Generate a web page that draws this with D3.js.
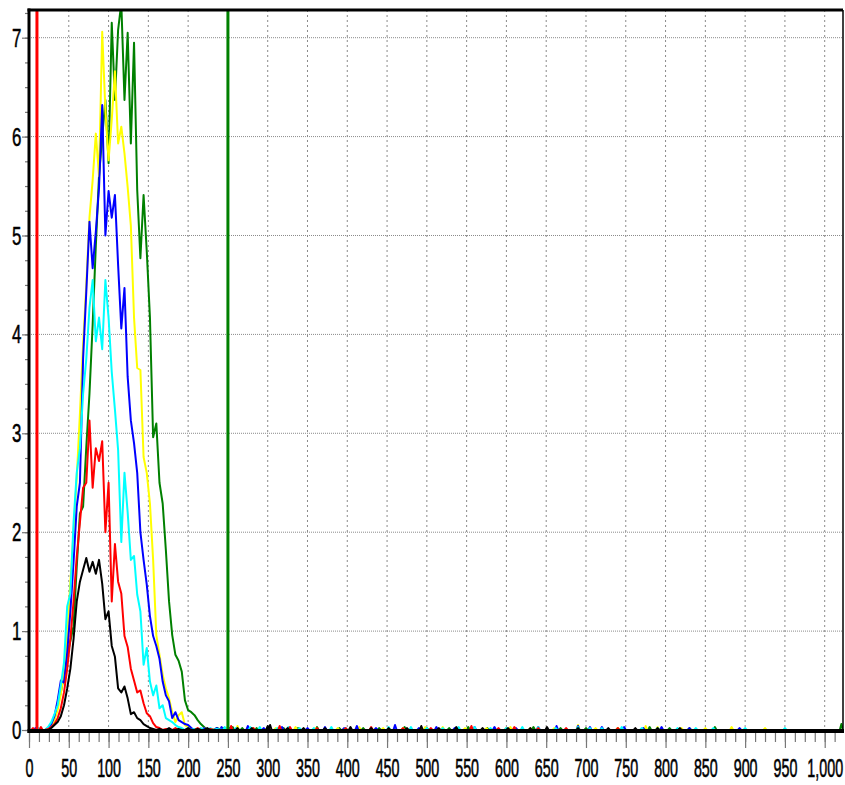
<!DOCTYPE html>
<html>
<head>
<meta charset="utf-8">
<script src="https://cdn.jsdelivr.net/npm/d3@7/dist/d3.min.js"></script>
<style>
  html, body { margin: 0; padding: 0; background: #fff; }
  svg { display: block; }
  text { font-family: "Liberation Sans", Arial, sans-serif; fill: #000; }
</style>
</head>
<body>
<svg id="chart" width="845" height="785"></svg>
<script>
// Channel positions (bin centres) for the main body of the histograms
const bins = [20, 24, 28, 32, 36, 40, 44, 48, 52, 56, 60, 64, 68, 72, 76, 80, 84, 88, 92, 96,
  100, 104, 108, 112, 116, 120, 124, 128, 132, 136, 140, 144, 148, 152, 156, 160, 164, 168, 172, 176,
  180, 184, 188, 192, 196, 200, 204, 208, 212, 216, 220, 224, 228, 232, 236];

// Counts per bin, one array per trace
const greenCounts = [0, 0.01, 0.05, 0.12, 0.25, 0.38, 0.55, 0.75, 0.9, 1.05, 1.65, 2.19, 2.26, 2.86, 3.4, 4.1, 4.9, 5.6, 6.0, 6.37,
  5.73, 7.15, 6.37, 7.08, 7.35, 6.37, 7.05, 5.93, 6.95, 5.46, 4.77, 5.41, 4.84, 4.17, 2.96, 3.1, 2.5, 2.29, 1.82, 1.3,
  0.96, 0.76, 0.7, 0.59, 0.3, 0.2, 0.18, 0.15, 0.1, 0.06, 0.03, 0, 0.01, 0, 0.02];
const yellowCounts = [0, 0.01, 0.04, 0.1, 0.2, 0.36, 0.6, 0.95, 1.5, 2.0, 2.55, 3.2, 3.9, 4.5, 5.18, 5.56, 6.03, 5.6, 7.06, 6.27,
  5.76, 6.17, 6.66, 5.93, 6.1, 5.83, 5.49, 5.1, 4.17, 3.66, 3.64, 2.76, 2.6, 2.29, 1.72, 0.96, 0.76, 0.56, 0.42, 0.32,
  0.18, 0.08, 0.15, 0.18, 0.05, 0.03, 0, 0.01, 0, 0, 0.02, 0, 0, 0.01, 0];
const blueCounts = [0, 0.02, 0.06, 0.14, 0.3, 0.5, 0.48, 0.78, 1.2, 1.7, 2.26, 2.5, 3.76, 4.43, 5.14, 4.67, 5.04, 5.48, 6.32, 5.0,
  5.45, 5.18, 5.41, 4.7, 4.06, 4.47, 3.57, 3.13, 2.9, 2.6, 2.0, 1.72, 1.47, 1.15, 0.95, 0.85, 0.72, 0.49, 0.35, 0.29,
  0.12, 0.18, 0.1, 0.08, 0.06, 0.05, 0.02, 0, 0.01, 0, 0.02, 0, 0.01, 0, 0.02];
const cyanCounts = [0, 0.03, 0.08, 0.16, 0.25, 0.45, 0.68, 1.25, 1.38, 2.1, 2.6, 2.85, 3.4, 3.75, 4.27, 4.55, 3.93, 4.17, 3.85, 4.55,
  4.17, 3.62, 3.24, 2.83, 1.9, 2.6, 2.2, 1.72, 1.76, 1.37, 1.2, 0.66, 0.83, 0.49, 0.35, 0.45, 0.22, 0.25, 0.12, 0.1,
  0.08, 0.05, 0.03, 0.02, 0, 0.02, 0, 0.01, 0, 0.02, 0, 0, 0.02, 0, 0.01];
const redCounts = [0, 0.01, 0.03, 0.06, 0.12, 0.22, 0.38, 0.62, 0.92, 1.3, 1.75, 2.1, 2.45, 2.5, 3.13, 2.45, 2.85, 2.72, 2.92, 2.0,
  2.5, 1.3, 1.88, 1.5, 1.38, 0.95, 0.84, 0.62, 0.5, 0.38, 0.4, 0.27, 0.17, 0.14, 0.07, 0.03, 0.02, 0, 0.01, 0,
  0, 0.02, 0, 0, 0, 0.01, 0, 0, 0.02, 0, 0, 0, 0.01, 0, 0];
const blackCounts = [0, 0, 0.02, 0.05, 0.08, 0.14, 0.25, 0.42, 0.62, 0.92, 1.3, 1.5, 1.62, 1.74, 1.6, 1.7, 1.58, 1.72, 1.48, 1.12,
  1.2, 0.85, 0.74, 0.42, 0.38, 0.44, 0.32, 0.16, 0.18, 0.12, 0.1, 0.06, 0.04, 0.02, 0.01, 0, 0.01, 0, 0, 0.02,
  0, 0, 0.01, 0, 0, 0.02, 0, 0, 0.01, 0, 0, 0.02, 0, 0, 0];

// Sparse counts outside the main body: [channel, count]
const greenSparse = [[244, 0.02], [256, 0.03], [268, 0.02], [286, 0.02], [300, 0.03], [320, 0.02], [338, 0.02], [362, 0.03],
  [390, 0.02], [420, 0.02], [440, 0.02], [472, 0.03], [500, 0.02], [528, 0.02], [552, 0.03], [576, 0.02], [600, 0.02],
  [634, 0.03], [668, 0.02], [700, 0.02], [740, 0.02], [780, 0.03], [805, 0.02], [830, 0.02], [862, 0.03], [1021, 0.06]];
const yellowSparse = [[248, 0.02], [262, 0.04], [282, 0.02], [310, 0.02], [335, 0.03], [360, 0.02], [388, 0.02], [415, 0.03],
  [445, 0.02], [470, 0.02], [498, 0.03], [520, 0.03], [548, 0.02], [575, 0.02], [605, 0.03], [630, 0.02], [660, 0.02],
  [690, 0.05], [712, 0.02], [740, 0.02], [775, 0.04], [790, 0.03], [820, 0.02], [850, 0.02], [883, 0.03], [925, 0.02]];
const blueSparse = [[8, 0.02], [242, 0.03], [252, 0.02], [275, 0.04], [295, 0.02], [318, 0.03], [350, 0.02], [372, 0.03],
  [396, 0.02], [412, 0.04], [436, 0.02], [460, 0.05], [490, 0.02], [512, 0.03], [535, 0.02], [560, 0.03], [585, 0.03],
  [612, 0.02], [640, 0.03], [663, 0.04], [690, 0.04], [705, 0.03], [720, 0.03], [748, 0.03], [772, 0.02], [795, 0.03],
  [830, 0.02], [893, 0.02]];
const cyanSparse = [[12, 0.02], [246, 0.03], [260, 0.02], [278, 0.03], [290, 0.03], [312, 0.02], [326, 0.03], [340, 0.02],
  [358, 0.02], [380, 0.03], [398, 0.02], [430, 0.02], [452, 0.03], [480, 0.03], [500, 0.02], [520, 0.02], [540, 0.03],
  [560, 0.03], [580, 0.02], [600, 0.02], [620, 0.03], [640, 0.03], [662, 0.02], [690, 0.03], [705, 0.02], [720, 0.02],
  [745, 0.03], [770, 0.02], [790, 0.02], [815, 0.02], [838, 0.02], [860, 0.02], [900, 0.02], [950, 0.02]];
const redSparse = [[5, 0.02], [15, 0.03], [254, 0.04], [282, 0.02], [315, 0.04], [328, 0.03], [362, 0.02], [398, 0.02],
  [430, 0.03], [470, 0.02], [505, 0.02], [556, 0.04], [590, 0.02], [610, 0.03], [640, 0.02], [675, 0.02], [740, 0.02]];
const blackSparse = [[262, 0.02], [280, 0.02], [300, 0.04], [303, 0.05], [325, 0.02], [345, 0.02], [372, 0.02], [404, 0.03],
  [430, 0.02], [452, 0.02], [475, 0.02], [493, 0.04], [515, 0.02], [537, 0.03], [570, 0.02], [602, 0.02], [630, 0.02],
  [651, 0.03], [690, 0.02], [728, 0.02], [762, 0.02], [790, 0.02], [818, 0.02]];

// Traces in drawing order
const traceNames = ["green", "yellow", "blue", "cyan", "red", "black"];
const traceColors = ["#008000", "#ffff00", "#0000ff", "#00ffff", "#ff0000", "#000000"];
const traceCounts = [greenCounts, yellowCounts, blueCounts, cyanCounts, redCounts, blackCounts];
const traceSparse = [greenSparse, yellowSparse, blueSparse, cyanSparse, redSparse, blackSparse];

// Gate markers
const markerChannels = [10, 250];
const markerColors = ["#ff0000", "#008000"];

// Axis ticks
const xMajorTicks = [0, 50, 100, 150, 200, 250, 300, 350, 400, 450, 500, 550, 600, 650, 700, 750, 800, 850, 900, 950, 1000];
const yMajorTicks = [0, 1, 2, 3, 4, 5, 6, 7];

const xMax = 1023;
const yMax = 7.28;

const svg = d3.select("#chart");
const plotLeft = 29, plotRight = 843, plotTop = 10, plotBottom = 730;

const x = d3.scaleLinear().domain([0, xMax]).range([plotLeft, plotRight]);
const y = d3.scaleLinear().domain([0, yMax]).range([plotBottom, plotTop]);

// Minor tick positions: quarter steps on both axes
const xMinorTicks = d3.range(0, xMax, 12.5);
const yMinorTicks = d3.range(0, yMax, 0.25);

// Grid
const grid = svg.append("g");
grid.selectAll("line.v").data(xMajorTicks.filter(d => d > 0)).join("line")
  .attr("class", "v")
  .attr("x1", d => x(d)).attr("x2", d => x(d))
  .attr("y1", plotTop).attr("y2", plotBottom)
  .attr("stroke", "#8a8a8a").attr("stroke-width", 1)
  .attr("stroke-dasharray", "2,3");
grid.selectAll("line.h").data(yMajorTicks.filter(d => d > 0)).join("line")
  .attr("class", "h")
  .attr("x1", plotLeft).attr("x2", plotRight)
  .attr("y1", d => y(d)).attr("y2", d => y(d))
  .attr("stroke", "#8a8a8a").attr("stroke-width", 1)
  .attr("stroke-dasharray", "1,1");

// Clip for the traces
svg.append("clipPath").attr("id", "plotClip")
  .append("rect").attr("x", plotLeft).attr("y", plotTop)
  .attr("width", plotRight - plotLeft).attr("height", plotBottom - plotTop + 2);

// Assemble each trace: zero baseline with single-channel spikes, plus the body bins
function tracePoints(counts, sparse) {
  const spike = ([c, v]) => [[c - 2, 0], [c, v], [c + 2, 0]];
  const pts = [[0, 0]];
  sparse.filter(d => d[0] < bins[0]).forEach(d => pts.push(...spike(d)));
  bins.forEach((b, i) => pts.push([b, counts[i]]));
  sparse.filter(d => d[0] > bins[bins.length - 1]).forEach(d => pts.push(...spike(d)));
  pts.push([xMax, 0]);
  return pts;
}

const line = d3.line().x(d => x(d[0])).y(d => y(d[1]));

const traces = svg.append("g").attr("clip-path", "url(#plotClip)");
traceNames.forEach((name, i) => {
  traces.append("path")
    .attr("class", "trace " + name)
    .attr("d", line(tracePoints(traceCounts[i], traceSparse[i])))
    .attr("fill", "none")
    .attr("stroke", traceColors[i])
    .attr("stroke-width", 2)
    .attr("stroke-linejoin", "round");
});

// Gate markers
svg.append("g").selectAll("line").data(markerChannels).join("line")
  .attr("x1", d => x(d)).attr("x2", d => x(d))
  .attr("y1", plotTop).attr("y2", plotBottom + 2)
  .attr("stroke", (d, i) => markerColors[i])
  .attr("stroke-width", 3);

// X axis: minor then major ticks with labels
const xMinorAxis = d3.axisBottom(x).tickValues(xMinorTicks).tickSize(12).tickFormat("");
const xMinorG = svg.append("g").attr("transform", `translate(0,${plotBottom})`).call(xMinorAxis);
xMinorG.select(".domain").remove();
xMinorG.selectAll(".tick line").attr("stroke", "#777").attr("stroke-width", 1.2);

const xAxis = d3.axisBottom(x).tickValues(xMajorTicks).tickSize(18).tickFormat(d3.format(","));
const xG = svg.append("g").attr("transform", `translate(0,${plotBottom})`).call(xAxis);
xG.select(".domain").remove();
xG.selectAll(".tick line").attr("stroke", "#777").attr("stroke-width", 1.2);
xG.selectAll(".tick text")
  .attr("y", 47).attr("dy", 0)
  .attr("font-size", 26)
  .attr("font-family", "Liberation Sans, Arial, sans-serif")
  .attr("fill", "#000")
  .attr("stroke", "#000").attr("stroke-width", 0.6)
  .attr("transform", "scale(0.55,1)");

// Y axis
const yMinorAxis = d3.axisLeft(y).tickValues(yMinorTicks).tickSize(4).tickFormat("");
const yMinorG = svg.append("g").attr("transform", `translate(${plotLeft},0)`).call(yMinorAxis);
yMinorG.select(".domain").remove();
yMinorG.selectAll(".tick line").attr("stroke", "#777").attr("stroke-width", 1.2);

const yAxis = d3.axisLeft(y).tickValues(yMajorTicks).tickSize(7).tickFormat(d3.format("d"));
const yG = svg.append("g").attr("transform", `translate(${plotLeft},0)`).call(yAxis);
yG.select(".domain").remove();
yG.selectAll(".tick line").attr("stroke", "#777").attr("stroke-width", 1.2);
yG.selectAll(".tick text")
  .attr("x", -7.5 / 0.65).attr("dy", "0.33em")
  .attr("font-size", 26)
  .attr("font-family", "Liberation Sans, Arial, sans-serif")
  .attr("fill", "#000")
  .attr("stroke", "#000").attr("stroke-width", 0.5)
  .attr("transform", "scale(0.65,1)");

// Frame
const frame = svg.append("g").attr("stroke", "#000");
frame.append("line").attr("x1", plotLeft - 1.5).attr("x2", plotRight).attr("y1", plotTop).attr("y2", plotTop).attr("stroke-width", 3);
frame.append("line").attr("x1", plotLeft).attr("x2", plotLeft).attr("y1", plotTop - 1.5).attr("y2", plotBottom + 3).attr("stroke-width", 3);
frame.append("line").attr("x1", plotLeft - 1.5).attr("x2", plotRight + 1).attr("y1", plotBottom + 1).attr("y2", plotBottom + 1).attr("stroke-width", 4);
frame.append("line").attr("x1", plotRight).attr("x2", plotRight).attr("y1", plotTop).attr("y2", plotBottom).attr("stroke-width", 1.5);
</script>
</body>
</html>
